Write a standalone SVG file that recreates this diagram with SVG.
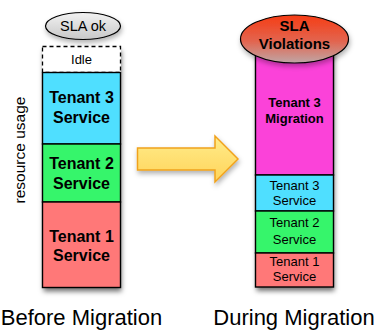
<svg xmlns="http://www.w3.org/2000/svg" width="378" height="330" viewBox="0 0 378 330">
  <defs>
    <filter id="shadow" x="-20%" y="-10%" width="140%" height="125%">
      <feDropShadow dx="1" dy="4" stdDeviation="2.5" flood-color="#000" flood-opacity="0.55"/>
    </filter>
    <filter id="softShadow" x="-20%" y="-30%" width="140%" height="170%">
      <feDropShadow dx="1" dy="3" stdDeviation="2.5" flood-color="#000" flood-opacity="0.3"/>
    </filter>
    <linearGradient id="okGrad" x1="0" y1="0" x2="0" y2="1">
      <stop offset="0" stop-color="#f2f2f2"/>
      <stop offset="1" stop-color="#c8c8c8"/>
    </linearGradient>
    <linearGradient id="violGrad" x1="0" y1="0" x2="0" y2="1">
      <stop offset="0" stop-color="#f63c14"/>
      <stop offset="0.55" stop-color="#e2654f"/>
      <stop offset="1" stop-color="#bfa6a6"/>
    </linearGradient>
    <linearGradient id="arrowGrad" x1="0" y1="0" x2="0" y2="1">
      <stop offset="0" stop-color="#ffec8a"/>
      <stop offset="1" stop-color="#ffd45a"/>
    </linearGradient>
    <style>
      .bar { stroke: #000; stroke-width: 1.4; }
      .t3 { fill: #4fdfff; }
      .t2 { fill: #36f56b; }
      .t1 { fill: #ff7878; }
      .mig { fill: #fb42d9; }
      .lbl { font-family: "Liberation Sans", Arial, sans-serif; fill: #000; text-anchor: middle; }
      .big { font-size: 16px; font-weight: bold; }
      .mid { font-size: 13px; font-weight: bold; }
      .small { font-size: 13px; }
      .caption { font-size: 22px; }
    </style>
  </defs>

  <!-- axis label -->
  <text class="lbl" font-size="15.5" transform="translate(24.5,150) rotate(-90)">resource usage</text>

  <!-- before migration stack -->
  <g id="before-stack">
    <g filter="url(#shadow)">
      <rect x="42.5" y="46.5" width="78" height="241" fill="#fff" stroke="none"/>
    </g>
    <g id="idle">
      <rect x="42.5" y="46.5" width="78" height="26" fill="#fff" stroke="#000" stroke-width="1.3" stroke-dasharray="4,3"/>
      <text class="lbl small" x="81.5" y="64">Idle</text>
    </g>
    <g id="before-tenant3">
      <rect class="bar t3" x="42.5" y="72.5" width="78" height="71.5"/>
      <text class="lbl big" x="81.5" y="103">Tenant 3</text>
      <text class="lbl big" x="81.5" y="123">Service</text>
    </g>
    <g id="before-tenant2">
      <rect class="bar t2" x="42.5" y="144" width="78" height="58"/>
      <text class="lbl big" x="81.5" y="169">Tenant 2</text>
      <text class="lbl big" x="81.5" y="189">Service</text>
    </g>
    <g id="before-tenant1">
      <rect class="bar t1" x="42.5" y="202" width="78" height="85.5"/>
      <text class="lbl big" x="81.5" y="242">Tenant 1</text>
      <text class="lbl big" x="81.5" y="261">Service</text>
    </g>
  </g>

  <g id="sla-ok">
    <ellipse cx="83" cy="26" rx="37.5" ry="13.5" fill="url(#okGrad)" stroke="#000" stroke-width="1.2" filter="url(#softShadow)"/>
    <text class="lbl" font-size="14.5" x="83" y="31">SLA ok</text>
  </g>

  <!-- during migration stack -->
  <g id="during-stack">
    <g filter="url(#shadow)">
      <rect x="255.5" y="50" width="78" height="237" fill="#fff" stroke="none"/>
    </g>
    <g id="during-migration">
      <rect class="bar mig" x="255.5" y="50" width="78" height="125"/>
      <text class="lbl mid" x="294.5" y="107">Tenant 3</text>
      <text class="lbl mid" x="294.5" y="123">Migration</text>
    </g>
    <g id="during-tenant3">
      <rect class="bar t3" x="255.5" y="175" width="78" height="36"/>
      <text class="lbl small" x="294.5" y="189.5">Tenant 3</text>
      <text class="lbl small" x="294.5" y="205">Service</text>
    </g>
    <g id="during-tenant2">
      <rect class="bar t2" x="255.5" y="211" width="78" height="42"/>
      <text class="lbl small" x="294.5" y="227">Tenant 2</text>
      <text class="lbl small" x="294.5" y="243.5">Service</text>
    </g>
    <g id="during-tenant1">
      <rect class="bar t1" x="255.5" y="253" width="78" height="34"/>
      <text class="lbl small" x="294.5" y="265.5">Tenant 1</text>
      <text class="lbl small" x="294.5" y="281">Service</text>
    </g>
  </g>

  <g id="sla-violations">
    <ellipse cx="294.5" cy="39" rx="54" ry="24" fill="url(#violGrad)" stroke="#000" stroke-width="1.2" filter="url(#softShadow)"/>
    <text class="lbl" font-size="15" font-weight="bold" x="294.5" y="31">SLA</text>
    <text class="lbl" font-size="15" font-weight="bold" x="294.5" y="48.5">Violations</text>
  </g>

  <!-- transition arrow -->
  <g id="connectors">
    <path d="M137.5,148 L215,148 L215,136 L238,159 L215,182 L215,170 L137.5,170 Z" fill="url(#arrowGrad)" stroke="#f0a21e" stroke-width="1.5" stroke-linejoin="miter" filter="url(#softShadow)"/>
  </g>

  <!-- captions -->
  <text class="lbl caption" x="81.5" y="325">Before Migration</text>
  <text class="lbl caption" x="294" y="325">During Migration</text>
</svg>
